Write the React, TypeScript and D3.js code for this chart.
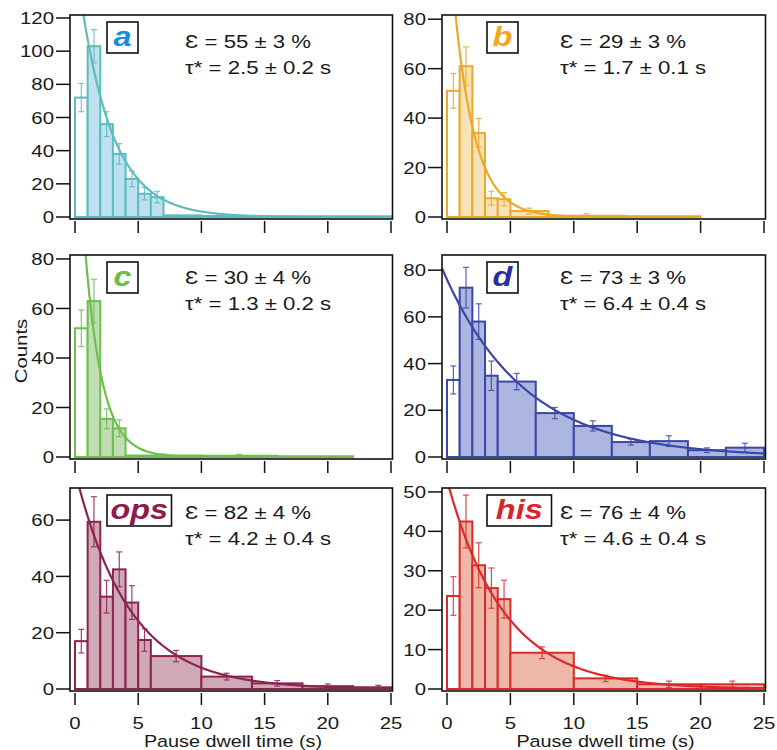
import React from 'react';
import * as d3 from 'd3';

// ---------- data ----------
const xTickValues = [0, 5, 10, 15, 20, 25];

const panelNames = ['a', 'b', 'c', 'd', 'ops', 'his'];
const epsilonTexts = ['Ɛ = 55 ± 3 %', 'Ɛ = 29 ± 3 %', 'Ɛ = 30 ± 4 %', 'Ɛ = 73 ± 3 %', 'Ɛ = 82 ± 4 %', 'Ɛ = 76 ± 4 %'];
const tauTexts = ['τ* = 2.5 ± 0.2 s', 'τ* = 1.7 ± 0.1 s', 'τ* = 1.3 ± 0.2 s', 'τ* = 6.4 ± 0.4 s', 'τ* = 4.2 ± 0.4 s', 'τ* = 4.6 ± 0.4 s'];

const edgesA = [0, 1, 2, 3, 4, 5, 6, 7, 10, 15, 20, 25];
const countsA = [72, 103, 56, 38, 23, 14, 12, 1, 0.6, 0.4, 0.4];
const errA = [8.5, 10, 7.5, 6.2, 4.8, 3.7, 3.5, 0, 0, 0, 0];

const edgesB = [0, 1, 2, 3, 4, 5, 8, 14, 20];
const countsB = [51, 61, 34, 7.6, 7.2, 2.4, 0.5, 0.3];
const errB = [7, 7.8, 5.8, 2.8, 2.7, 1.2, 0.8, 0];

const edgesC = [0, 1, 2, 3, 4, 10, 16, 22];
const countsC = [52, 63, 15.4, 11.6, 0.6, 0.5, 0.3];
const errC = [7.4, 8.8, 4, 3.4, 0.6, 0.6, 0];

const edgesD = [0, 1, 2, 3, 4, 7, 10, 13, 16, 19, 22, 25];
const countsD = [33, 72.5, 58, 34.8, 32.3, 18.8, 13.3, 6.4, 6.8, 2.9, 4];
const errD = [6, 8.7, 7.6, 6.3, 3.5, 2.4, 2.2, 1.3, 2.3, 1, 1.9];

const edgesOps = [0, 1, 2, 3, 4, 5, 6, 10, 14, 18, 22, 26];
const countsOps = [17, 59.4, 32.8, 42.5, 30.7, 17.4, 11.7, 4.4, 2, 1, 0.6];
const errOps = [4.2, 8.9, 5.8, 6.2, 6, 4, 2, 1.2, 1, 0.8, 0.7];

const edgesHis = [0, 1, 2, 3, 4, 5, 10, 15, 20, 25];
const countsHis = [23.6, 42.5, 31.4, 25.6, 22.8, 9.2, 2.7, 1.2, 1.2];
const errHis = [4.9, 6.7, 5.7, 5.1, 4.8, 1.5, 0.8, 0.8, 0.8];

// fit parameters (amplitude, time constant) of exponential fit curves
const fitAmp = [158, 123, 152, 76, 77.4, 53];
const fitTau = [2.58, 1.65, 1.35, 6.4, 4.3, 4.5];
const fitEnd = [25, 20, 22, 25, 25, 25];

const yMaxes = [121.8, 81.7, 81.6, 86.5, 71.4, 51];
const yTicksA = [0, 20, 40, 60, 80, 100, 120];
const yTicksB = [0, 20, 40, 60, 80];
const yTicksC = [0, 20, 40, 60, 80];
const yTicksD = [0, 20, 40, 60, 80];
const yTicksOps = [0, 20, 40, 60];
const yTicksHis = [0, 10, 20, 30, 40, 50];

const strokeColors = ['#5cbdbf', '#eba92b', '#6cbf4f', '#3a47a6', '#8c2350', '#d92b2b'];
const fillColors = ['#bfe0ee', '#f8e3b8', '#c0ddb3', '#adb6e0', '#cfa9b5', '#eeb8a8'];
const labelColors = ['#1a8fd8', '#f0a81c', '#6bbf48', '#2a2d9c', '#8c1c4c', '#d9252b'];

const allEdges = [edgesA, edgesB, edgesC, edgesD, edgesOps, edgesHis];
const allCounts = [countsA, countsB, countsC, countsD, countsOps, countsHis];
const allErrs = [errA, errB, errC, errD, errOps, errHis];
const allYTicks = [yTicksA, yTicksB, yTicksC, yTicksD, yTicksOps, yTicksHis];

// ---------- layout ----------
const W = 777;
const H = 750;
const SX = 1.2;
const FONT = "'Liberation Sans', Arial, Helvetica, sans-serif";
const colFrameLeft = [70, 442];
const colX0 = [75, 447];
const colX25 = [391, 764];
const rowTop = [15, 255, 488];
const rowBottom = [219, 459, 691];

type TProps = {
  x: number; y: number; rot?: number; anchor?: string; size: number;
  weight?: string; italic?: boolean; fill?: string; children: React.ReactNode; dy?: string;
};
const T = ({ x, y, rot = 0, anchor = 'start', size, weight = 'normal', italic = false, fill = '#1a1a1a', children, dy }: TProps) => (
  <text
    transform={`translate(${x},${y}) rotate(${rot}) scale(${SX},1)`}
    textAnchor={anchor as any}
    fontSize={size}
    fontWeight={weight}
    fontStyle={italic ? 'italic' : 'normal'}
    fontFamily={FONT}
    fill={fill}
    dy={dy}
  >
    {children}
  </text>
);

const Panel = ({ i }: { i: number }) => {
  const col = i % 2;
  const row = Math.floor(i / 2);
  const left = colFrameLeft[col];
  const top = rowTop[row];
  const bottom = rowBottom[row];
  const xs = d3.scaleLinear().domain([0, 25]).range([colX0[col], colX25[col]]);
  const right = colX25[col] + 1.5;
  const ys = d3.scaleLinear().domain([0, yMaxes[i]]).range([bottom - 2, top]);
  const edges = allEdges[i];
  const counts = allCounts[i];
  const errs = allErrs[i];
  const stroke = strokeColors[i];
  const clipId = `clip-${i}`;

  const tStart = xs.invert(left);
  const pts = d3.range(tStart, fitEnd[i] + 0.001, 0.05);
  const line = d3.line<number>()
    .x((t) => xs(t))
    .y((t) => ys(fitAmp[i] * Math.exp(-t / fitTau[i])))
    .curve(d3.curveLinear);

  const name = panelNames[i];
  const boxW = name.length === 1 ? 31 : name.length * 21.5;
  const boxX = left + (col === 0 ? 37 : 45);
  const boxY = top + 7;
  const boxH = 31;
  const annX = left + (col === 0 ? 115 : 118);
  const annY1 = top + (row === 0 ? 33 : row === 1 ? 29 : 31);
  const annY2 = annY1 + 25.5;

  return (
    <g>
      <defs>
        <clipPath id={clipId}>
          <rect x={left} y={top} width={right - left} height={bottom - top} />
        </clipPath>
      </defs>
      <rect x={left} y={top} width={right - left} height={bottom - top} fill="white" />
      <g clipPath={`url(#${clipId})`}>
        {counts.map((c, k) => (
          <rect
            key={`b${k}`}
            x={xs(edges[k])}
            y={ys(c)}
            width={xs(edges[k + 1]) - xs(edges[k])}
            height={ys(0) - ys(c)}
            fill={k === 0 ? 'white' : fillColors[i]}
            stroke={stroke}
            strokeWidth={2}
          />
        ))}
        {errs.map((e, k) => {
          if (!e) return null;
          const cx = xs((edges[k] + edges[k + 1]) / 2);
          const y1 = ys(counts[k] + e);
          const y2 = ys(counts[k] - e);
          return (
            <g key={`e${k}`} stroke={stroke} strokeWidth={1.2} opacity={0.85}>
              <line x1={cx} x2={cx} y1={y1} y2={y2} />
              <line x1={cx - 3} x2={cx + 3} y1={y1} y2={y1} />
              <line x1={cx - 3} x2={cx + 3} y1={y2} y2={y2} />
            </g>
          );
        })}
        <path d={line(pts) || ''} fill="none" stroke={stroke} strokeWidth={2.2} />
      </g>
      <rect x={left} y={top} width={right - left} height={bottom - top} fill="none" stroke="#111" strokeWidth={1.6} />
      {/* y ticks */}
      {allYTicks[i].map((v) => (
        <g key={`y${v}`}>
          <line x1={left - 14} x2={left} y1={ys(v)} y2={ys(v)} stroke="#111" strokeWidth={1.5} />
          <T x={left - 16} y={ys(v)} anchor="end" size={17} dy="0.36em">{v}</T>
        </g>
      ))}
      {/* x ticks */}
      {xTickValues.map((v) => (
        <g key={`x${v}`}>
          <line x1={xs(v)} x2={xs(v)} y1={bottom + 2} y2={bottom + 14} stroke="#111" strokeWidth={1.5} />
          {row === 2 && <T x={xs(v)} y={bottom + 38} anchor="middle" size={17}>{v}</T>}
        </g>
      ))}
      {row === 2 && (
        <T x={(xs(0) + xs(25)) / 2} y={bottom + 56} anchor="middle" size={16.5}>Pause dwell time (s)</T>
      )}
      {/* label box */}
      <rect x={boxX} y={boxY} width={boxW} height={boxH} fill="white" stroke="#111" strokeWidth={1.6} />
      <T x={boxX + boxW / 2} y={boxY + 24} anchor="middle" size={27} weight="bold" italic fill={labelColors[i]}>{name}</T>
      <T x={annX} y={annY1} size={18.5}>{epsilonTexts[i]}</T>
      <T x={annX} y={annY2} size={18.5}>{tauTexts[i]}</T>
    </g>
  );
};

export default function App() {
  return (
    <svg width={W} height={H} style={{ position: 'absolute', left: 0, top: 0, background: 'white' }}>
      <rect x={0} y={0} width={W} height={H} fill="white" />
      {panelNames.map((_, i) => (
        <Panel key={i} i={i} />
      ))}
      <T x={27} y={351} rot={-90} anchor="middle" size={17}>Counts</T>
    </svg>
  );
}
